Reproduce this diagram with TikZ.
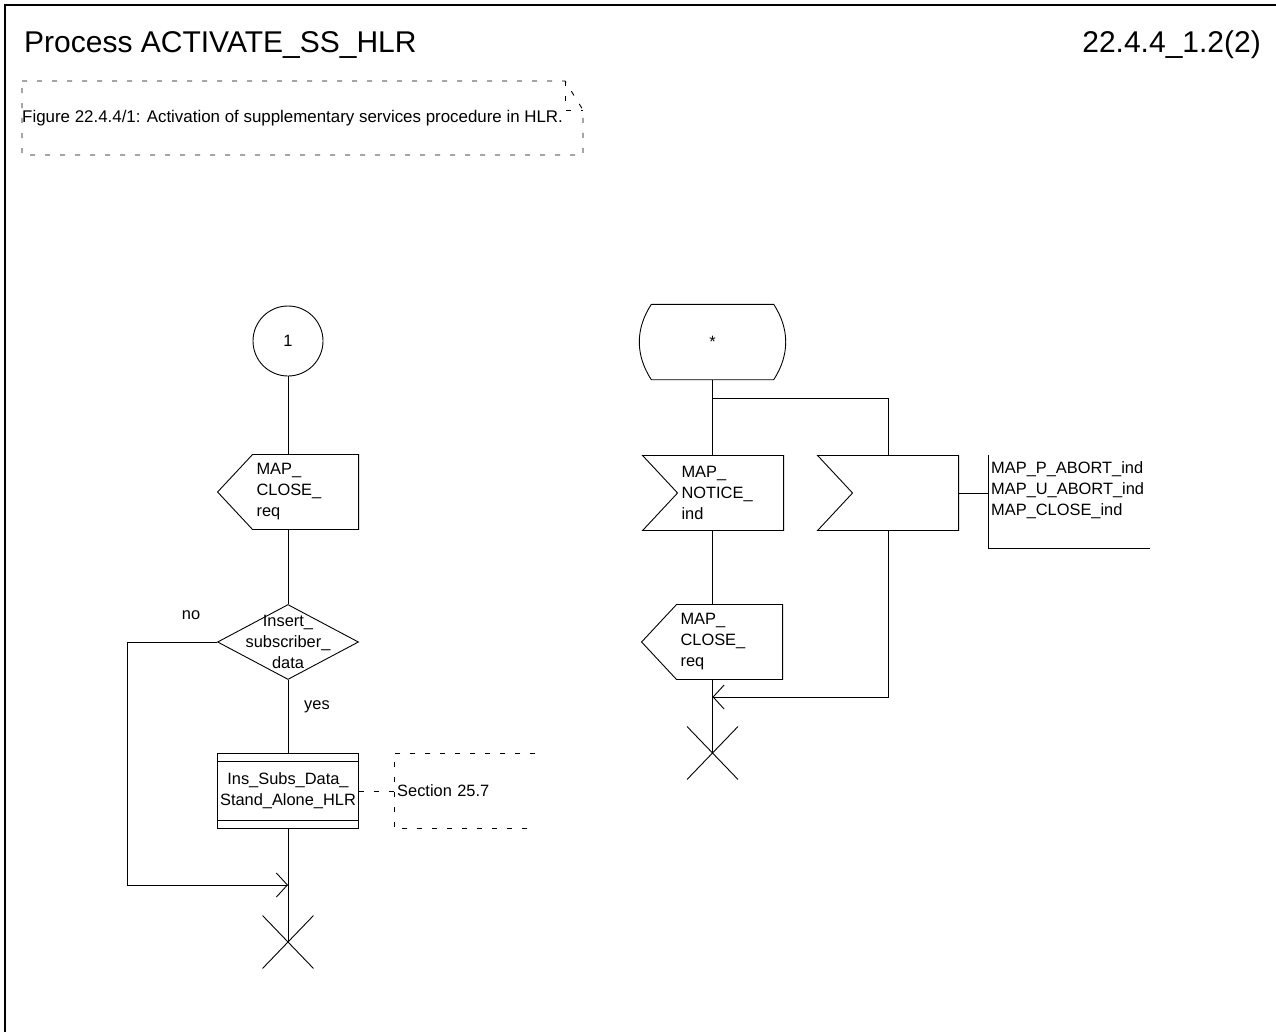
\documentclass[tikz,border=0pt]{standalone}
\usepackage{fontspec}
\setmainfont{Liberation Sans}
\usetikzlibrary{positioning,arrows.meta,shapes.geometric,shapes.symbols,shapes.misc}
\newcommand\sdlsize{\fontsize{16.4}{21}\selectfont}
\newcommand\titlesize{\fontsize{30}{35}\selectfont}
\tikzset{
  sym/.style={draw=black, line width=0.9pt, font=\sdlsize, align=left, inner sep=0pt},
  outsig/.style={sym, shape=signal, signal to=west, signal pointer angle=94,
    text width=98pt, inner xsep=4pt, minimum height=75pt},
  insig/.style={sym, shape=signal, signal from=west, signal to=nowhere, signal pointer angle=94,
    text width=98pt, inner xsep=4pt, minimum height=75pt},
  conn/.style={sym, circle, minimum size=70pt, align=center},
  dec/.style={sym, diamond, minimum width=141pt, minimum height=75pt},
  proc/.style={sym, rectangle, minimum width=141pt, minimum height=75pt, align=center,
    path picture={
      \draw[line width=0.9pt] ([yshift=-8pt]path picture bounding box.north west) -- ([yshift=-8pt]path picture bounding box.north east);
      \draw[line width=0.9pt] ([yshift=8pt]path picture bounding box.south west) -- ([yshift=8pt]path picture bounding box.south east);}},
  statebox/.style={font=\sdlsize, minimum width=122pt, minimum height=75pt, inner sep=0pt},
  stopsym/.style={draw=black, line width=0.9pt, cross out, minimum width=50pt, minimum height=52pt, inner sep=0pt},
  txt/.style={font=\sdlsize, inner sep=0pt},
  sectxt/.style={txt, text width=135pt, inner xsep=3pt, minimum height=75pt, align=left},
  flow/.style={line width=0.9pt, draw=black},
  mergeline/.style={flow, -{Straight Barb[length=11pt, width=24pt, line width=0.9pt]}},
  cmt/.style={line width=0.9pt, dash pattern=on 5pt off 10pt},
}
\begin{document}
\begin{tikzpicture}[x=1pt,y=-1pt]
\useasboundingbox (0,0) rectangle (1276,1032);
% frame and headings
\draw[line width=1.6pt] (1276,5) -- (5,5) -- (5,1032);
\node[anchor=west, font=\titlesize, inner sep=0pt] (title) at (24,45) {Process ACTIVATE\_SS\_HLR};
\node[anchor=east, font=\titlesize, inner sep=0pt] (page) at (1261,45) {22.4.4\_1.2(2)};
% caption in a text symbol
\node[txt, anchor=west, font=\fontsize{16.9}{21}\selectfont] (caption) at (22,118) {Figure 22.4.4/1: Activation of supplementary services procedure in HLR.};
\draw[cmt] (22,81) -- (565,81) -- (583,110) -- (583,155) -- (22,155) -- cycle;
\draw[cmt] (565,81) -- (565,110) -- (583,110);
% left branch
\node[conn] (c1) at (288,341) {1};
\node[outsig, anchor=east] (o1) at (359,492) {MAP\_\\CLOSE\_\\req};
\node[dec] (d1) at (288,642) {};
\node[txt, align=center] (d1t) at (288,642) {Insert\_\\subscriber\_\\data};
\node[txt] (no) at (191,615) {no};
\node[txt] (yes) at (317,707) {yes};
\node[proc] (p1) at (288,791) {Ins\_Subs\_Data\_\\Stand\_Alone\_HLR};
\node[sectxt, anchor=west] (sec) at (394,791) {Section 25.7};
\coordinate (m1) at (288,885);
\node[stopsym] (s1) at (288,942) {};
\draw[flow] (c1) -- (c1 |- o1.north);
\draw[flow] (c1 |- o1.south) -- (d1);
\draw[flow] (d1) -- (p1);
\draw[flow] (p1) -- (s1.center);
\draw[mergeline] (d1.west) -- ++(-90,0) |- (m1);
\draw[cmt] (sec.north east) -- (sec.north west) -- (sec.south west) -- (sec.south east);
\draw[cmt] (p1) -- (sec);
% right branch
\node[statebox] (st) at (712.5,342) {*};
\draw[flow] (st.north west) -- (st.north east) to[bend left=33] (st.south east)
  -- (st.south west) to[bend left=33] (st.north west);
\coordinate (b1) at (888,398);
\node[insig, anchor=east] (in1) at (784,493) {MAP\_\\NOTICE\_\\ind};
\node[insig, anchor=east] (in2) at (959,493) {};
\node[txt, anchor=west, align=left, inner xsep=3pt] (sl) at (988,490) {MAP\_P\_ABORT\_ind\\MAP\_U\_ABORT\_ind\\MAP\_CLOSE\_ind};
\draw[flow] (988,455) -- (988,548) -- (1150,548);
\node[outsig, anchor=east] (o2) at (783,642) {MAP\_\\CLOSE\_\\req};
\coordinate (m2) at (712.5,697);
\node[stopsym] (s2) at (712.5,753) {};
\draw[flow] (st) -- (st |- in1.north);
\draw[flow] (st |- b1) -- (b1) -- (b1 |- in2.north);
\draw[flow] (st |- in1.south) -- (st |- o2.north);
\draw[flow] (st |- o2.south) -- (s2.center);
\draw[mergeline] (b1 |- in2.south) |- (m2);
\draw[flow] (in2.east) -- (in2.east -| sl.west);
\end{tikzpicture}
\end{document}
